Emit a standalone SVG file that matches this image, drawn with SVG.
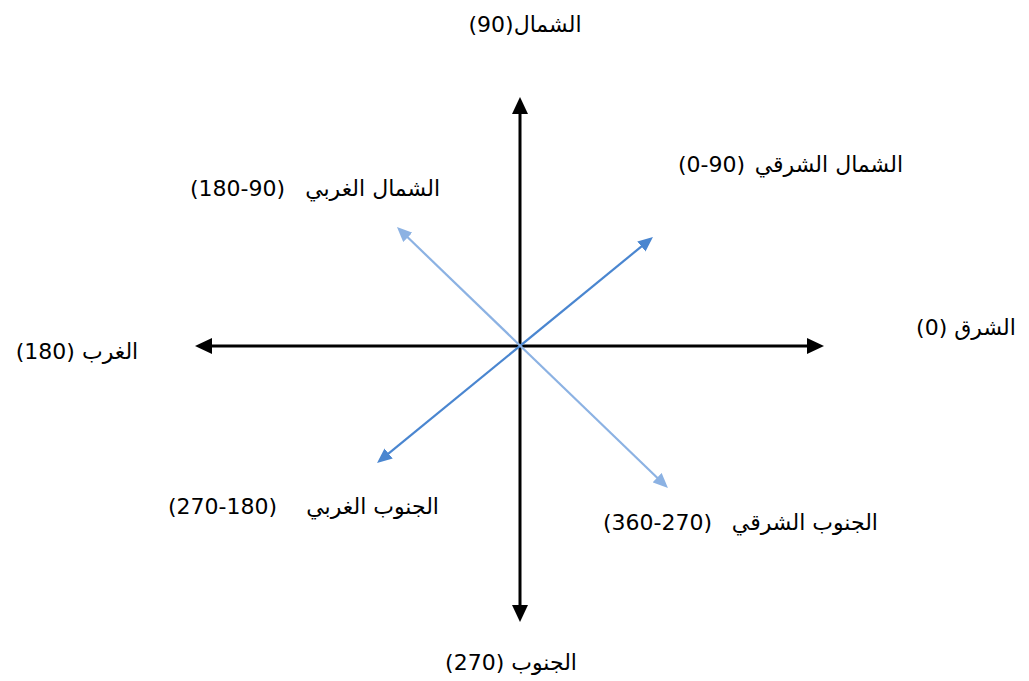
<svg xmlns="http://www.w3.org/2000/svg" width="1029" height="681" viewBox="0 0 1029 681">
<style>
.lbl{font-family:"DejaVu Sans",sans-serif;font-size:22px;fill:#000}
.c{text-anchor:middle;direction:rtl;unicode-bidi:embed}
.ar{text-anchor:end}
.num{text-anchor:start}
.axis{stroke:#000;stroke-width:3;fill:none}
.d1{stroke:#4a86d0;stroke-width:2.2;fill:none}
.d2{stroke:#8cb2e3;stroke-width:2.2;fill:none}
</style>
<defs>
<marker id="ah" viewBox="0 0 17 16" refX="2" refY="8" markerWidth="17" markerHeight="16" markerUnits="userSpaceOnUse" orient="auto-start-reverse"><path d="M0,0 L17,8 L0,16 z" fill="#000"/></marker>
<marker id="ab1" viewBox="0 0 15 13" refX="3" refY="6.5" markerWidth="15" markerHeight="13" markerUnits="userSpaceOnUse" orient="auto-start-reverse"><path d="M0,0 L15,6.5 L0,13 z" fill="#4a86d0"/></marker>
<marker id="ab2" viewBox="0 0 15 13" refX="3" refY="6.5" markerWidth="15" markerHeight="13" markerUnits="userSpaceOnUse" orient="auto-start-reverse"><path d="M0,0 L15,6.5 L0,13 z" fill="#8cb2e3"/></marker>
</defs>
<g id="connectors">
<line class="axis" x1="520" y1="112" x2="520" y2="607" marker-start="url(#ah)" marker-end="url(#ah)"/>
<line class="axis" x1="210" y1="346" x2="809" y2="346" marker-start="url(#ah)" marker-end="url(#ah)"/>
<line class="d1" x1="386.3" y1="455.4" x2="643.7" y2="244.6" marker-start="url(#ab1)" marker-end="url(#ab1)"/>
<line class="d2" x1="405.6" y1="235.3" x2="659.3" y2="479.7" marker-start="url(#ab2)" marker-end="url(#ab2)"/>
</g>
<g id="north"><text class="lbl c" x="525" y="32">الشمال(90)</text></g>
<g id="northeast"><text class="lbl num" x="678" y="172">(0-90)</text><text class="lbl ar" x="903" y="172">الشمال الشرقي</text></g>
<g id="northwest"><text class="lbl num" x="190" y="196">(180-90)</text><text class="lbl ar" x="440" y="196">الشمال الغربي</text></g>
<g id="west"><text class="lbl c" x="77" y="359">الغرب (180)</text></g>
<g id="east"><text class="lbl c" x="966" y="335">الشرق (0)</text></g>
<g id="southwest"><text class="lbl num" x="168" y="514">(270-180)</text><text class="lbl ar" x="439" y="514">الجنوب الغربي</text></g>
<g id="southeast"><text class="lbl num" x="603" y="530">(360-270)</text><text class="lbl ar" x="878" y="530">الجنوب الشرقي</text></g>
<g id="south"><text class="lbl c" x="511" y="670">الجنوب (270)</text></g>
</svg>
